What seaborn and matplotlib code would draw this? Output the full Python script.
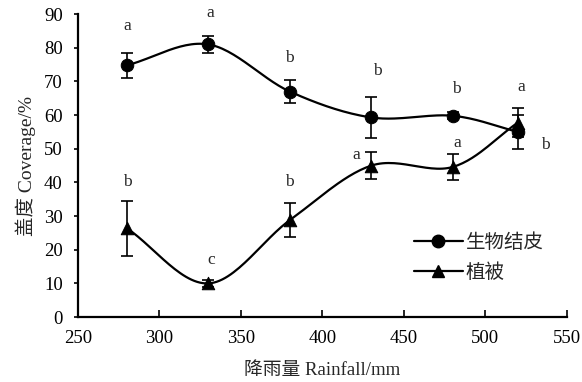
import numpy as np
import matplotlib
matplotlib.use("Agg")
import matplotlib.pyplot as plt
import seaborn as sns

# 数据
rainfall = [280, 330, 380, 430, 480, 520]
crust = [74.8, 81.0, 67.0, 59.3, 59.8, 55.0]
crust_err = [3.8, 2.4, 3.4, 6.0, 1.0, 5.0]
crust_letters = ['a', 'a', 'b', 'b', 'b', 'b']
veg = [26.4, 10.0, 28.8, 45.0, 44.6, 57.8]
veg_err = [8.2, 1.0, 5.0, 4.0, 3.9, 4.2]
veg_letters = ['b', 'c', 'b', 'a', 'a', 'a']

# 字母标注位置(数据坐标)
crust_lab_x = [280.5, 331, 380, 434, 482, 536.5]
crust_lab_y = [86.5, 90.3, 77, 73, 67.7, 51]
veg_lab_x = [280.5, 331.5, 380, 421, 482.5, 522]
veg_lab_y = [40, 17, 40, 48, 51.7, 68.3]

sns.set_theme(style="ticks")
plt.rcParams["font.family"] = ["Liberation Serif", "Noto Sans CJK SC"]
plt.rcParams["axes.unicode_minus"] = False


def smooth(x, y, n=30):
    # Catmull-Rom 平滑曲线 (类似 Excel 平滑线)
    x = np.asarray(x, float)
    y = np.asarray(y, float)
    px = np.concatenate([[2 * x[0] - x[1]], x, [2 * x[-1] - x[-2]]])
    py = np.concatenate([[2 * y[0] - y[1]], y, [2 * y[-1] - y[-2]]])
    xs, ys = [], []
    t = np.linspace(0, 1, n)
    for i in range(1, len(px) - 2):
        p0, p1, p2, p3 = px[i - 1:i + 3]
        q0, q1, q2, q3 = py[i - 1:i + 3]
        for a, b, c, d, out in ((p0, p1, p2, p3, xs), (q0, q1, q2, q3, ys)):
            out.extend(0.5 * ((2 * b) + (-a + c) * t + (2 * a - 5 * b + 4 * c - d) * t ** 2
                              + (-a + 3 * b - 3 * c + d) * t ** 3))
    return np.array(xs), np.array(ys)


fig = plt.figure(figsize=(5.82, 3.82), dpi=100)
ax = fig.add_axes([0.134, 0.170, 0.840, 0.793])

for ys, err, mk, ms, lab in ((crust, crust_err, 'o', 9, '生物结皮'),
                             (veg, veg_err, '^', 9, '植被')):
    sx, sy = smooth(rainfall, ys)
    sns.lineplot(x=sx, y=sy, ax=ax, color='black', lw=1.6, sort=False)
    ax.errorbar(rainfall, ys, yerr=err, fmt='none', ecolor='black',
                elinewidth=1.2, capsize=4, capthick=1.2)
    ax.plot([], [], color='black', lw=1.6, marker=mk, ms=ms, label=lab)
    sns.scatterplot(x=rainfall, y=ys, ax=ax, marker=mk, s=ms ** 2,
                    color='black', edgecolor='black', zorder=5)

for x, y, t in zip(crust_lab_x, crust_lab_y, crust_letters):
    ax.text(x, y, t, ha='center', va='center', fontsize=12.5)
for x, y, t in zip(veg_lab_x, veg_lab_y, veg_letters):
    ax.text(x, y, t, ha='center', va='center', fontsize=12.5)

ax.set_xlim(250, 550)
ax.set_ylim(0, 90)
ax.set_xticks(range(250, 551, 50))
ax.set_yticks(range(0, 91, 10))
ax.tick_params(axis='x', direction='in', length=5, width=1.2, pad=9,
               labelsize=13.5, colors='black')
ax.tick_params(axis='y', direction='out', length=3, width=1.2, pad=8,
               labelsize=13.5, colors='black')
for s in ['top', 'right']:
    ax.spines[s].set_visible(False)
for s in ['left', 'bottom']:
    ax.spines[s].set_linewidth(1.6)
    ax.spines[s].set_color('black')

ax.set_xlabel('降雨量 Rainfall/mm', fontsize=13.5, labelpad=11)
ax.set_ylabel('盖度 Coverage/%', fontsize=14, labelpad=6)

ax.legend(loc='lower right', bbox_to_anchor=(0.98, 0.07), frameon=False,
          fontsize=14, handlelength=2.5, handletextpad=0.15, labelspacing=0.6,
          borderpad=0.2)

fig.savefig('out.png', dpi=100)
